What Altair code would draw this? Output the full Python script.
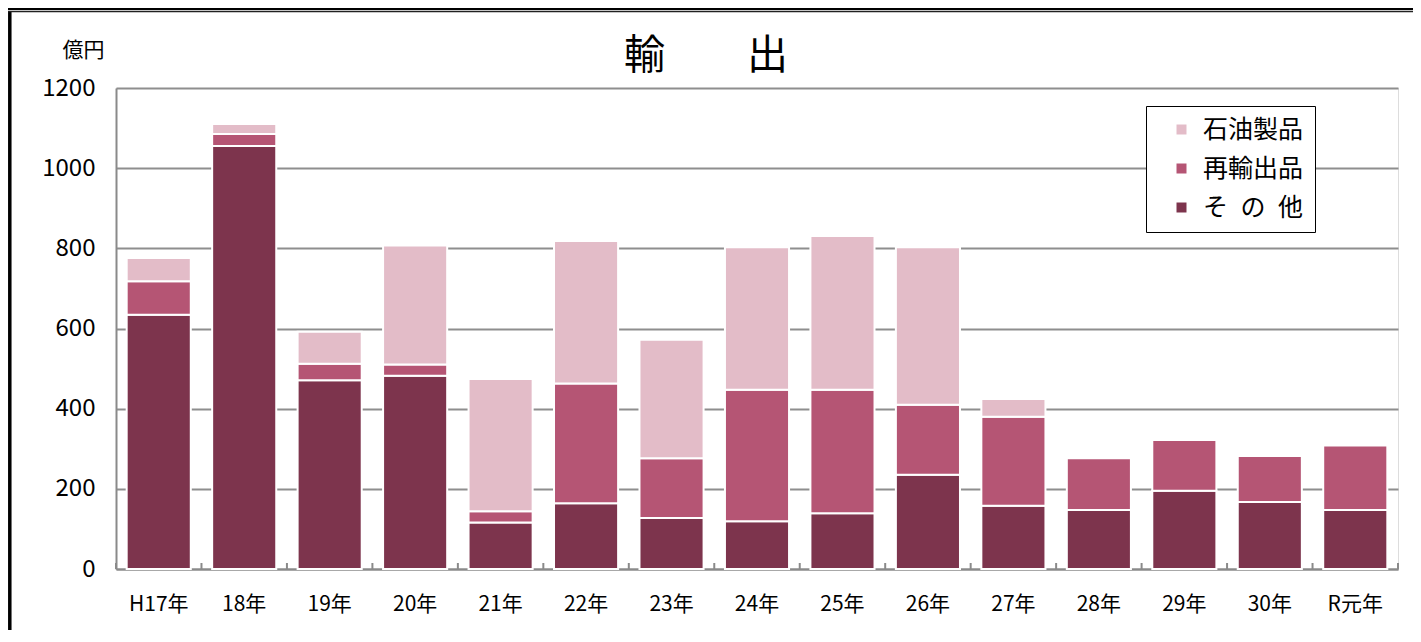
import altair as alt
import pandas as pd

cats = ["H17年", "18年", "19年", "20年", "21年", "22年", "23年", "24年",
        "25年", "26年", "27年", "28年", "29年", "30年", "R元年"]
other = [634, 1055, 471, 482, 116, 164, 127, 119, 139, 235, 158, 147, 195, 167, 147]
reexport = [84, 30, 41, 28, 28, 299, 149, 328, 308, 175, 222, 129, 127, 115, 161]
petro = [58, 25, 80, 297, 330, 355, 296, 356, 384, 393, 44, 0, 0, 0, 0]

series_names = ["石油製品", "再輸出品", "そ\u2002の\u2002他"]
series_colors = ["#E3BCC8", "#B55574", "#7D344D"]
y_ticks = [0, 200, 400, 600, 800, 1000, 1200]
title_text = "輸　　出"

rows = []
for i, c in enumerate(cats):
    for name, vals, ordv in [(series_names[2], other, 0),
                             (series_names[1], reexport, 1),
                             (series_names[0], petro, 2)]:
        if vals[i] > 0:
            rows.append({"cat": c, "series": name, "value": vals[i], "ord": ordv})
df = pd.DataFrame(rows)

FONT = "Noto Sans CJK JP"
W, H = 1282, 481
STEP = W / len(cats)
HALF_GAP = STEP * 0.125

bars = alt.Chart(df).mark_bar(stroke="white", strokeWidth=2).encode(
    x=alt.X("cat:N", sort=cats, title=None,
            scale=alt.Scale(paddingInner=0.25, paddingOuter=0.125),
            axis=alt.Axis(labelAngle=0, labelFontSize=21, labelPadding=24,
                          labelColor="black", labelFont=FONT,
                          domainColor="#8a8a8a", domainWidth=2, ticks=False)),
    y=alt.Y("value:Q", stack="zero",
            scale=alt.Scale(domain=[0, 1200], nice=False),
            axis=alt.Axis(values=y_ticks, format="d", title="億円", titleAngle=0,
                          titleX=-54, titleY=-38, titleAlign="left",
                          titleBaseline="middle", titleFontSize=21,
                          titleFontWeight="normal", titleFont=FONT, titleColor="black",
                          labelFontSize=24, labelPadding=21, labelFont=FONT,
                          labelColor="black",
                          domainColor="#8a8a8a", domainWidth=2, ticks=False,
                          gridColor="#8e8e8e", gridWidth=2, gridOpacity=1)),
    color=alt.Color("series:N",
                    scale=alt.Scale(domain=series_names, range=series_colors),
                    legend=alt.Legend(title=None, orient="none",
                                      legendX=1030, legendY=18,
                                      symbolType="square", symbolSize=100,
                                      symbolStrokeWidth=0, symbolOffset=12,
                                      labelFontSize=25, labelFont=FONT,
                                      labelColor="black", labelOffset=9,
                                      rowPadding=13, padding=11,
                                      strokeColor="black", fillColor="white")),
    order=alt.Order("ord:Q"),
)

tick_df = pd.DataFrame({"cat": cats})
ticks = alt.Chart(tick_df).mark_rule(color="#8a8a8a", strokeWidth=2,
                                     xOffset=-HALF_GAP).encode(
    x=alt.X("cat:N", sort=cats, bandPosition=0),
    y=alt.value(H),
    y2=alt.value(H - 6),
)
end_tick = alt.Chart(pd.DataFrame({"cat": [cats[-1]]})).mark_rule(
    color="#8a8a8a", strokeWidth=2, xOffset=HALF_GAP).encode(
    x=alt.X("cat:N", sort=cats, bandPosition=1),
    y=alt.value(H),
    y2=alt.value(H - 6),
)

deco = pd.DataFrame({"a": [0]})
title_mark = alt.Chart(pd.DataFrame({"t": [title_text]})).mark_text(
    font=FONT, fontSize=41, color="black", baseline="middle", align="center"
).encode(text="t:N", x=alt.value(W / 2 - 51), y=alt.value(-31))

frame_left = alt.Chart(deco).mark_rule(color="black", strokeWidth=3.5).encode(
    x=alt.value(-106.2), y=alt.value(-77), y2=alt.value(H + 70))
frame_top = alt.Chart(deco).mark_rule(color="#222222", strokeWidth=1.5).encode(
    x=alt.value(-108), x2=alt.value(W + 20), y=alt.value(-76.5))
band_top = alt.Chart(deco).mark_rule(color="black", strokeWidth=2).encode(
    x=alt.value(-108), x2=alt.value(W + 20), y=alt.value(-79))

chart = alt.layer(bars, ticks, end_tick, title_mark,
                  frame_left, frame_top, band_top).properties(
    width=W, height=H,
    padding={"left": 108, "top": 80, "right": 15, "bottom": 61},
    autosize=alt.AutoSizeParams(type="none"),
).configure_view(stroke=None).configure(background="white")

chart.save("out.html", embed_options={"renderer": "svg", "actions": False})
